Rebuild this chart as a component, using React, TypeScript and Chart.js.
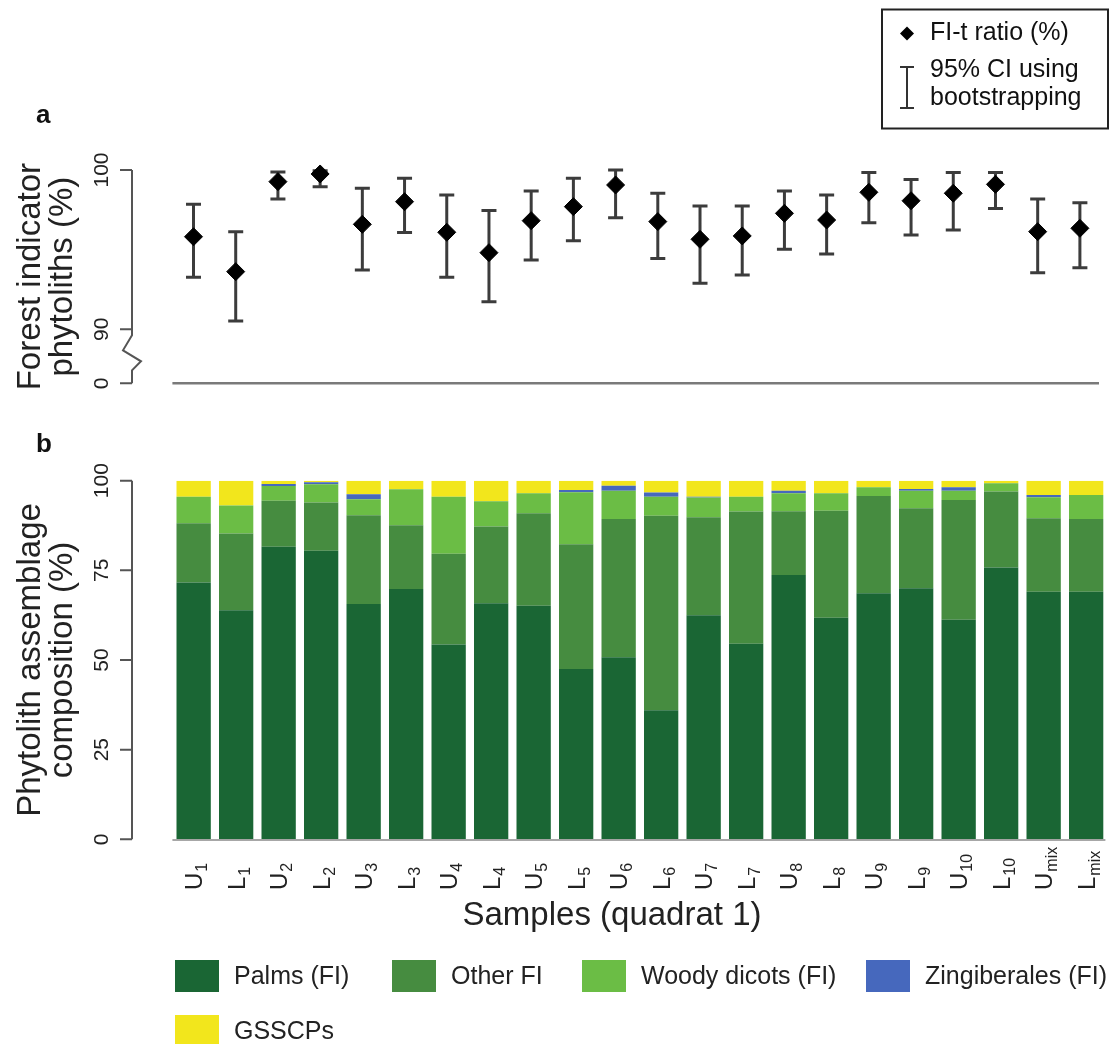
import { useEffect, useRef } from "react";
import { Chart, registerables } from "chart.js";
Chart.register(...registerables);

// ---------- data ----------
const samples = ["U1", "L1", "U2", "L2", "U3", "L3", "U4", "L4", "U5", "L5", "U6", "L6", "U7", "L7", "U8", "L8", "U9", "L9", "U10", "L10", "Umix", "Lmix"];

// panel a: FI-t ratio (%) with 95% CI (bootstrapping)
const fiRatio = [95.81, 93.62, 99.27, 99.75, 96.59, 98.01, 96.09, 94.81, 96.82, 97.7, 99.06, 96.76, 95.65, 95.86, 97.28, 96.86, 98.6, 98.07, 98.54, 99.1, 96.13, 96.34];
const ciLow = [93.26, 90.52, 98.18, 98.95, 93.72, 96.07, 93.26, 91.73, 94.35, 95.56, 97.01, 94.45, 92.89, 93.41, 95.02, 94.73, 96.69, 95.92, 96.23, 97.59, 93.55, 93.87];
const ciHigh = [97.85, 96.13, 99.87, 99.95, 98.85, 99.48, 98.43, 97.45, 98.68, 99.48, 100.0, 98.54, 97.74, 97.74, 98.68, 98.43, 99.85, 99.41, 99.85, 99.85, 98.18, 97.95];

// panel b: phytolith assemblage composition (%)
const palms = [71.6, 63.9, 81.6, 80.5, 65.6, 69.8, 54.3, 65.8, 65.1, 47.5, 50.8, 36.0, 62.5, 54.5, 73.7, 61.8, 68.6, 70.0, 61.2, 75.8, 69.0, 69.0];
const otherFI = [16.5, 21.4, 12.8, 13.4, 24.8, 17.8, 25.3, 21.4, 25.8, 34.8, 38.5, 54.2, 27.3, 36.9, 17.8, 29.8, 27.1, 22.3, 33.4, 21.2, 20.5, 20.3];
const woodyDicots = [7.4, 7.8, 4.1, 5.1, 4.4, 10.0, 15.9, 7.1, 5.6, 14.5, 7.9, 5.3, 5.5, 4.1, 5.0, 4.9, 2.5, 4.9, 2.6, 2.3, 5.9, 6.7];
const zingiberales = [0, 0, 0.6, 0.6, 1.4, 0, 0, 0, 0, 0.6, 1.4, 1.2, 0.2, 0, 0.7, 0, 0, 0.5, 1.0, 0, 0.6, 0];
const gsscps = [4.5, 6.9, 0.9, 0.4, 3.8, 2.4, 4.5, 5.7, 3.5, 2.6, 1.4, 3.3, 4.5, 4.5, 2.8, 3.5, 1.8, 2.3, 1.8, 0.7, 4.0, 4.0];

const seriesNames = ["Palms (FI)", "Other FI", "Woody dicots (FI)", "Zingiberales (FI)", "GSSCPs"];

// axis ticks
const topAxisMin = 86.61; // broken axis: bottom of panel a shown as "0"
const topTickValues = [100, 90, topAxisMin];
const topTickLabels = ["100", "90", "0"];
const bottomTickValues = [0, 25, 50, 75, 100];
const bottomTickLabels = ["0", "25", "50", "75", "100"];

// ---------- styles ----------
const W = 1111;
const H = 1044;
const FONT = '"Liberation Sans", Arial, Helvetica, sans-serif';
const COLORS = ["#1a6634", "#468c40", "#6bbd45", "#4668bd", "#f2e61c"];
const AXIS_X = 132;

function drawRotText(ctx: CanvasRenderingContext2D, text: string, x: number, y: number, font: string, align: CanvasTextAlign) {
  ctx.save();
  ctx.translate(x, y);
  ctx.rotate(-Math.PI / 2);
  ctx.font = font;
  ctx.textAlign = align;
  ctx.textBaseline = "alphabetic";
  ctx.fillText(text, 0, 0);
  ctx.restore();
}

function drawYAxis(ctx: CanvasRenderingContext2D, scale: any, values: number[], labels: string[], broken: boolean) {
  ctx.save();
  ctx.strokeStyle = "#555";
  ctx.lineWidth = 2;
  const yTop = scale.getPixelForValue(values.reduce((a, b) => Math.max(a, b)));
  const yBot = scale.getPixelForValue(values.reduce((a, b) => Math.min(a, b)));
  ctx.beginPath();
  if (broken) {
    const y90 = scale.getPixelForValue(values[1]);
    ctx.moveTo(AXIS_X, yTop);
    ctx.lineTo(AXIS_X, y90 + 6);
    ctx.lineTo(AXIS_X - 9, y90 + 21);
    ctx.lineTo(AXIS_X + 9, y90 + 32);
    ctx.lineTo(AXIS_X, y90 + 41);
    ctx.lineTo(AXIS_X, yBot);
  } else {
    ctx.moveTo(AXIS_X, yTop);
    ctx.lineTo(AXIS_X, yBot);
  }
  ctx.stroke();
  ctx.beginPath();
  values.forEach((v) => {
    const y = scale.getPixelForValue(v);
    ctx.moveTo(AXIS_X - 12, y);
    ctx.lineTo(AXIS_X, y);
  });
  ctx.stroke();
  ctx.fillStyle = "#222";
  values.forEach((v, i) => {
    drawRotText(ctx, labels[i], 108, scale.getPixelForValue(v), `21px ${FONT}`, "center");
  });
  ctx.restore();
}

function drawYTitle(ctx: CanvasRenderingContext2D, lines: string[], centerY: number) {
  ctx.save();
  ctx.fillStyle = "#222";
  lines.forEach((ln, i) => drawRotText(ctx, ln, 40 + i * 32, centerY, `33px ${FONT}`, "center"));
  ctx.restore();
}

export default function App() {
  const topRef = useRef<HTMLCanvasElement>(null);
  const botRef = useRef<HTMLCanvasElement>(null);

  useEffect(() => {
    if (!topRef.current || !botRef.current) return;

    const topDecor = {
      id: "topDecor",
      beforeDatasetsDraw(chart: any) {
        const ctx = chart.ctx;
        const xs = chart.scales.x;
        const ys = chart.scales.y;
        ctx.save();
        ctx.strokeStyle = "#3c3c3c";
        ctx.lineWidth = 3;
        ctx.beginPath();
        samples.forEach((_, i) => {
          const x = xs.getPixelForValue(i);
          const y1 = ys.getPixelForValue(ciLow[i]);
          const y2 = ys.getPixelForValue(ciHigh[i]);
          ctx.moveTo(x, y1);
          ctx.lineTo(x, y2);
          ctx.moveTo(x - 7.5, y1);
          ctx.lineTo(x + 7.5, y1);
          ctx.moveTo(x - 7.5, y2);
          ctx.lineTo(x + 7.5, y2);
        });
        ctx.stroke();
        ctx.restore();
      },
      afterDraw(chart: any) {
        const ctx = chart.ctx;
        const ys = chart.scales.y;
        const area = chart.chartArea;
        ctx.save();
        ctx.strokeStyle = "#7a7a7a";
        ctx.lineWidth = 2.5;
        ctx.beginPath();
        const yb = ys.getPixelForValue(topAxisMin);
        ctx.moveTo(area.left, yb);
        ctx.lineTo(area.right - 2, yb);
        ctx.stroke();
        ctx.restore();

        drawYAxis(ctx, ys, topTickValues, topTickLabels, true);
        drawYTitle(ctx, ["Forest indicator", "phytoliths (%)"], (area.top + area.bottom) / 2);

        ctx.save();
        ctx.fillStyle = "#111";
        ctx.font = `bold 26px ${FONT}`;
        ctx.textAlign = "left";
        ctx.textBaseline = "alphabetic";
        ctx.fillText("a", 36, 123);
        ctx.restore();

        // legend box
        ctx.save();
        ctx.strokeStyle = "#222";
        ctx.lineWidth = 2;
        ctx.strokeRect(882, 9.5, 226, 119);
        ctx.fillStyle = "#000";
        ctx.beginPath();
        ctx.moveTo(907, 26.5);
        ctx.lineTo(914, 33.5);
        ctx.lineTo(907, 40.5);
        ctx.lineTo(900, 33.5);
        ctx.closePath();
        ctx.fill();
        ctx.strokeStyle = "#333";
        ctx.lineWidth = 2;
        ctx.beginPath();
        ctx.moveTo(907, 67);
        ctx.lineTo(907, 108);
        ctx.moveTo(900, 67);
        ctx.lineTo(914, 67);
        ctx.moveTo(900, 108);
        ctx.lineTo(914, 108);
        ctx.stroke();
        ctx.fillStyle = "#111";
        ctx.font = `25px ${FONT}`;
        ctx.textAlign = "left";
        ctx.textBaseline = "alphabetic";
        ctx.fillText("FI-t ratio (%)", 930, 40);
        ctx.fillText("95% CI using", 930, 76.5);
        ctx.fillText("bootstrapping", 930, 105);
        ctx.restore();
      },
    };

    const bottomDecor = {
      id: "bottomDecor",
      afterDraw(chart: any) {
        const ctx = chart.ctx;
        const xs = chart.scales.x;
        const ys = chart.scales.y;
        const area = chart.chartArea;
        ctx.save();
        ctx.strokeStyle = "#8a8a8a";
        ctx.lineWidth = 1.5;
        ctx.beginPath();
        const y0 = ys.getPixelForValue(0) + 0.75;
        ctx.moveTo(area.left, y0);
        ctx.lineTo(area.right - 2, y0);
        ctx.stroke();
        ctx.restore();

        drawYAxis(ctx, ys, bottomTickValues, bottomTickLabels, false);
        drawYTitle(ctx, ["Phytolith assemblage", "composition (%)"], (area.top + area.bottom) / 2);

        ctx.save();
        ctx.fillStyle = "#111";
        ctx.font = `bold 26px ${FONT}`;
        ctx.textAlign = "left";
        ctx.fillText("b", 36, 452);
        ctx.restore();

        // x tick labels (rotated, letter + subscript)
        ctx.save();
        ctx.fillStyle = "#222";
        samples.forEach((s, i) => {
          const x = xs.getPixelForValue(i);
          const base = s.charAt(0);
          const sub = s.slice(1);
          ctx.save();
          ctx.translate(x, 890);
          ctx.rotate(-Math.PI / 2);
          ctx.textAlign = "left";
          ctx.textBaseline = "alphabetic";
          ctx.font = `24px ${FONT}`;
          const bw = ctx.measureText(base).width;
          ctx.fillText(base, 0, 8.5);
          ctx.font = `16px ${FONT}`;
          ctx.fillText(sub, bw + 1, 13.5);
          ctx.restore();
        });
        ctx.restore();

        ctx.save();
        ctx.fillStyle = "#222";
        ctx.font = `33px ${FONT}`;
        ctx.textAlign = "center";
        ctx.textBaseline = "alphabetic";
        ctx.fillText("Samples (quadrat 1)", 612, 925);
        ctx.restore();

        const legendPos = [
          [175, 960],
          [392, 960],
          [582, 960],
          [866, 960],
          [175, 1015],
        ];
        ctx.save();
        ctx.font = `25px ${FONT}`;
        ctx.textAlign = "left";
        ctx.textBaseline = "middle";
        chart.data.datasets.forEach((ds: any, i: number) => {
          const [lx, ly] = legendPos[i];
          ctx.fillStyle = ds.backgroundColor;
          ctx.fillRect(lx, ly, 44, 32);
          ctx.fillStyle = "#222";
          ctx.fillText(ds.label, lx + 59, ly + 17);
        });
        ctx.restore();
      },
    };

    const topChart = new Chart(topRef.current, {
      type: "line",
      data: {
        labels: samples,
        datasets: [
          {
            label: "FI-t ratio (%)",
            data: fiRatio,
            showLine: false,
            pointStyle: "rectRot",
            pointRadius: 9,
            pointBackgroundColor: "#000",
            pointBorderColor: "#000",
            pointBorderWidth: 1,
            clip: false as any,
          },
        ],
      },
      options: {
        responsive: false,
        animation: false,
        events: [],
        layout: { padding: { left: 172.4, right: 3.6, top: 170, bottom: H - 383.3 } },
        plugins: { legend: { display: false }, tooltip: { enabled: false } },
        scales: {
          x: { type: "category", offset: true, display: false },
          y: { type: "linear", min: topAxisMin, max: 100, display: false },
        },
      },
      plugins: [topDecor],
    });

    const barData = [palms, otherFI, woodyDicots, zingiberales, gsscps];
    const botChart = new Chart(botRef.current, {
      type: "bar",
      data: {
        labels: samples,
        datasets: barData.map((d, i) => ({
          label: seriesNames[i],
          data: d,
          backgroundColor: COLORS[i],
          borderWidth: 0,
          categoryPercentage: 1,
          barPercentage: 0.807,
        })),
      },
      options: {
        responsive: false,
        animation: false,
        events: [],
        layout: { padding: { left: 172.4, right: 3.6, top: 480.7, bottom: H - 839.3 } },
        plugins: { legend: { display: false }, tooltip: { enabled: false } },
        scales: {
          x: { type: "category", stacked: true, offset: true, display: false },
          y: { type: "linear", stacked: true, min: 0, max: 100, display: false },
        },
      },
      plugins: [bottomDecor],
    });

    return () => {
      topChart.destroy();
      botChart.destroy();
    };
  }, []);

  return (
    <div style={{ position: "absolute", left: 0, top: 0, width: W, height: H, background: "#fff", overflow: "hidden" }}>
      <canvas ref={botRef} width={W} height={H} style={{ position: "absolute", left: 0, top: 0 }} />
      <canvas ref={topRef} width={W} height={H} style={{ position: "absolute", left: 0, top: 0, pointerEvents: "none" }} />
    </div>
  );
}
